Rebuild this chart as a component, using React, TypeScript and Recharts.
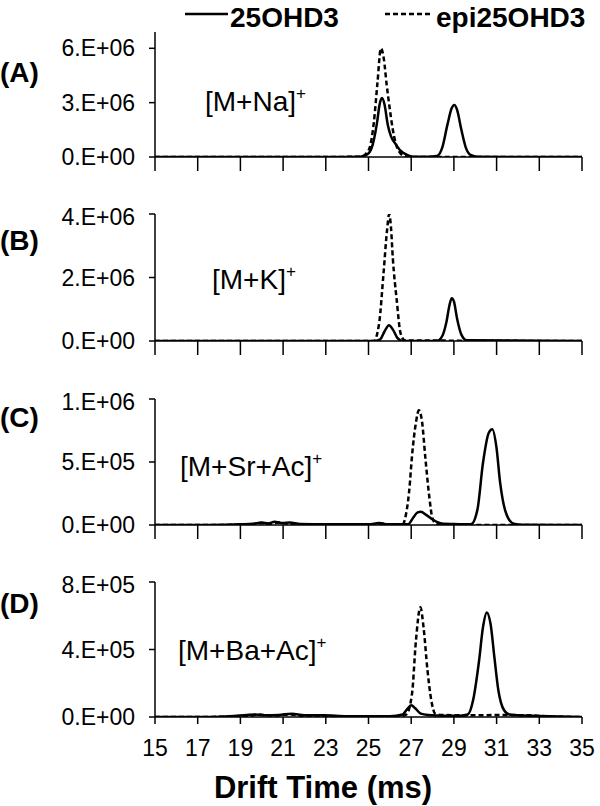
import React from "react";
import { Line, LineChart, XAxis, YAxis } from "recharts";

// drift time (ms) and intensity
const naX25 = [15, 23, 24.6, 24.95, 25.2, 25.4, 25.52, 25.63, 25.75, 25.9, 26.05, 26.25, 26.5, 26.8, 27.1, 27.8, 28.2, 28.45, 28.7, 28.9, 29.02, 29.15, 29.35, 29.55, 29.8, 30.1, 35];
const na25 = [0, 0, 0.02, 0.15, 0.7, 1.9, 2.9, 3.25, 2.9, 1.8, 1.15, 0.75, 0.35, 0.12, 0.02, 0.01, 0.05, 0.5, 1.8, 2.7, 2.87, 2.6, 1.5, 0.55, 0.1, 0.01, 0];
const naXepi = [15, 23, 24.65, 24.85, 25.05, 25.25, 25.42, 25.58, 25.72, 25.85, 25.98, 26.14, 26.3, 26.5, 26.75, 27.2, 35];
const naEpi = [0, 0, 0.02, 0.15, 0.5, 1.9, 4.1, 6.0, 5.4, 4.0, 2.8, 1.5, 0.66, 0.2, 0.03, 0, 0];

const kX25 = [15, 25.3, 25.55, 25.75, 25.96, 26.15, 26.35, 26.6, 28.2, 28.45, 28.65, 28.8, 28.9, 29.0, 29.15, 29.35, 29.6, 35];
const k25 = [0, 0, 0.05, 0.3, 0.5, 0.35, 0.1, 0, 0, 0.15, 0.6, 1.15, 1.35, 1.25, 0.7, 0.2, 0.02, 0];
const kXepi = [15, 25.25, 25.5, 25.7, 25.87, 25.97, 26.05, 26.14, 26.32, 26.5, 26.7, 35];
const kEpi = [0, 0, 0.57, 2.1, 3.5, 4.0, 3.6, 2.6, 1.3, 0.25, 0.02, 0];

const srX25 = [15, 17.5, 19.0, 19.6, 20.0, 20.3, 20.6, 21.0, 21.3, 21.8, 23, 25.0, 25.5, 25.9, 26.85, 27.1, 27.3, 27.45, 27.7, 27.95, 28.2, 28.5, 29.0, 29.8, 30.1, 30.36, 30.63, 30.8, 30.99, 31.17, 31.44, 31.8, 32.2, 35];
const sr25 = [0, 0, 0.05, 0.1, 0.2, 0.12, 0.25, 0.15, 0.2, 0.08, 0.05, 0.05, 0.15, 0.05, 0.05, 0.6, 1.0, 1.05, 0.8, 0.5, 0.25, 0.1, 0.08, 0.05, 1.2, 4.9, 7.3, 7.6, 6.2, 3.3, 0.95, 0.1, 0.02, 0];
const srXepi = [15, 17.5, 19.5, 20.0, 20.4, 20.8, 21.2, 22, 25.3, 25.6, 25.9, 26.6, 26.75, 26.9, 27.05, 27.22, 27.36, 27.5, 27.67, 27.85, 28.0, 28.2, 29, 30, 35];
const srEpi = [0, 0, 0.05, 0.15, 0.1, 0.2, 0.1, 0.05, 0.05, 0.12, 0.05, 0.05, 0.8, 2.6, 5.7, 8.1, 9.1, 8.3, 5.2, 2.2, 0.5, 0.08, 0.05, 0, 0];

const baX25 = [15, 17, 18.5, 19.3, 19.7, 20.2, 20.8, 21.4, 22.0, 22.9, 24.0, 26.0, 26.6, 26.8, 27.0, 27.2, 27.45, 27.8, 28.5, 29.3, 29.65, 29.9, 30.18, 30.36, 30.54, 30.72, 30.9, 31.08, 31.35, 31.6, 32.0, 33.5, 35];
const ba25 = [0, 0, 0.05, 0.12, 0.15, 0.1, 0.12, 0.2, 0.1, 0.1, 0.05, 0.05, 0.15, 0.45, 0.69, 0.5, 0.2, 0.12, 0.08, 0.08, 0.15, 1.0, 3.35, 5.3, 6.2, 5.5, 3.5, 1.6, 0.4, 0.15, 0.1, 0.05, 0];
const baXepi = [15, 17, 19.5, 19.8, 20.5, 21.3, 22, 26.5, 26.77, 27.04, 27.22, 27.43, 27.58, 27.76, 27.94, 28.12, 28.4, 30, 31, 32.5, 33.5, 35];
const baEpi = [0, 0, 0.08, 0.15, 0.08, 0.15, 0.05, 0.05, 0.15, 1.4, 4.5, 6.5, 5.3, 2.8, 1.0, 0.2, 0.12, 0.1, 0.12, 0.1, 0.03, 0];

const xTicks = [15, 17, 19, 21, 23, 25, 27, 29, 31, 33, 35];
const seriesNames = ["25OHD3", "epi25OHD3"];
const panelLabels = ["(A)", "(B)", "(C)", "(D)"];
const ionLabels = ["[M+Na]", "[M+K]", "[M+Sr+Ac]", "[M+Ba+Ac]"];

const FONT = "'Liberation Sans', Arial, sans-serif";

const pts = (xs: number[], ys: number[], scale: number) =>
  xs.map((x, i) => ({ x, y: ys[i] * scale }));

const sci = (v: number) => {
  if (v === 0) return "0.E+00";
  const e = Math.floor(Math.log10(v) + 1e-9);
  const m = Math.round(v / Math.pow(10, e));
  return `${m}.E+${String(e).padStart(2, "0")}`;
};

interface PanelProps {
  top: number;
  plotH: number;
  yMax: number;
  yTicks: number[];
  solid: { x: number; y: number }[];
  dashed: { x: number; y: number }[];
  last?: boolean;
}

function Panel({ top, plotH, yMax, yTicks, solid, dashed, last }: PanelProps) {
  const xH = last ? 50 : 20;
  return (
    <div style={{ position: "absolute", left: 0, top }}>
      <LineChart
        width={600}
        height={10 + plotH + xH}
        margin={{ top: 10, right: 18, left: 0, bottom: 0 }}
        style={{ overflow: "visible" }}
      >
        <XAxis
          dataKey="x"
          type="number"
          domain={[15, 35]}
          ticks={xTicks}
          height={xH}
          allowDataOverflow
          axisLine={{ stroke: "#000", strokeWidth: 1.5 }}
          tickLine={{ stroke: "#000", strokeWidth: 1.5 }}
          tickSize={last ? 7 : 14}
          tickMargin={last ? 16 : 0}
          tickFormatter={last ? (v: number) => String(v) : () => ""}
          tick={{ fill: "#000", fontSize: 23, fontFamily: FONT }}
        />
        <YAxis
          type="number"
          domain={[0, yMax]}
          ticks={yTicks}
          width={155}
          allowDataOverflow
          axisLine={{ stroke: "#000", strokeWidth: 1.5 }}
          tickLine={{ stroke: "#000", strokeWidth: 1.5 }}
          tickSize={6}
          tickMargin={14}
          tickFormatter={sci}
          tick={{ fill: "#000", fontSize: 23, fontFamily: FONT }}
        />
        <Line
          data={dashed}
          dataKey="y"
          type="monotone"
          stroke="#000"
          strokeWidth={2.5}
          strokeDasharray="5 3"
          dot={false}
          activeDot={false}
          isAnimationActive={false}
        />
        <Line
          data={solid}
          dataKey="y"
          type="monotone"
          stroke="#000"
          strokeWidth={2.5}
          dot={false}
          activeDot={false}
          isAnimationActive={false}
        />
      </LineChart>
    </div>
  );
}

export default function App() {
  return (
    <div
      style={{
        position: "absolute",
        left: 0,
        top: 0,
        width: 600,
        height: 806,
        background: "#fff",
        overflow: "hidden",
      }}
    >
      <Panel top={22} plotH={125} yMax={6.9e6} yTicks={[0, 3e6, 6e6]} solid={pts(naX25, na25, 1e6)} dashed={pts(naXepi, naEpi, 1e6)} />
      <Panel top={204} plotH={127} yMax={4e6} yTicks={[0, 2e6, 4e6]} solid={pts(kX25, k25, 1e6)} dashed={pts(kXepi, kEpi, 1e6)} />
      <Panel top={389} plotH={126} yMax={1e6} yTicks={[0, 5e5, 1e6]} solid={pts(srX25, sr25, 1e5)} dashed={pts(srXepi, srEpi, 1e5)} />
      <Panel top={572} plotH={135} yMax={8e5} yTicks={[0, 4e5, 8e5]} solid={pts(baX25, ba25, 1e5)} dashed={pts(baXepi, baEpi, 1e5)} last />

      <svg
        width={600}
        height={806}
        style={{ position: "absolute", left: 0, top: 0, pointerEvents: "none" }}
        fontFamily={FONT}
      >
        {/* legend */}
        <line x1={185} y1={14} x2={228} y2={14} stroke="#000" strokeWidth={2.5} />
        <text x={230} y={27} fontSize={28} fontWeight="bold">{seriesNames[0]}</text>
        <line x1={385} y1={14} x2={431} y2={14} stroke="#000" strokeWidth={2.5} strokeDasharray="5 3" />
        <text x={436} y={27} fontSize={28} fontWeight="bold">{seriesNames[1]}</text>

        {/* panel letters */}
        {[82, 250, 427, 613].map((y, i) => (
          <text key={panelLabels[i]} x={0} y={y} fontSize={28} fontWeight="bold">{panelLabels[i]}</text>
        ))}

        {/* ion labels */}
        {[[205, 111], [212, 289], [180, 476], [178, 660]].map(([x, y], i) => (
          <text key={ionLabels[i]} x={x} y={y} fontSize={28}>
            {ionLabels[i]}
            <tspan fontSize={17} dy={-12}>+</tspan>
          </text>
        ))}

        <text x={323} y={798} fontSize={31} fontWeight="bold" textAnchor="middle">Drift Time (ms)</text>
      </svg>
    </div>
  );
}
